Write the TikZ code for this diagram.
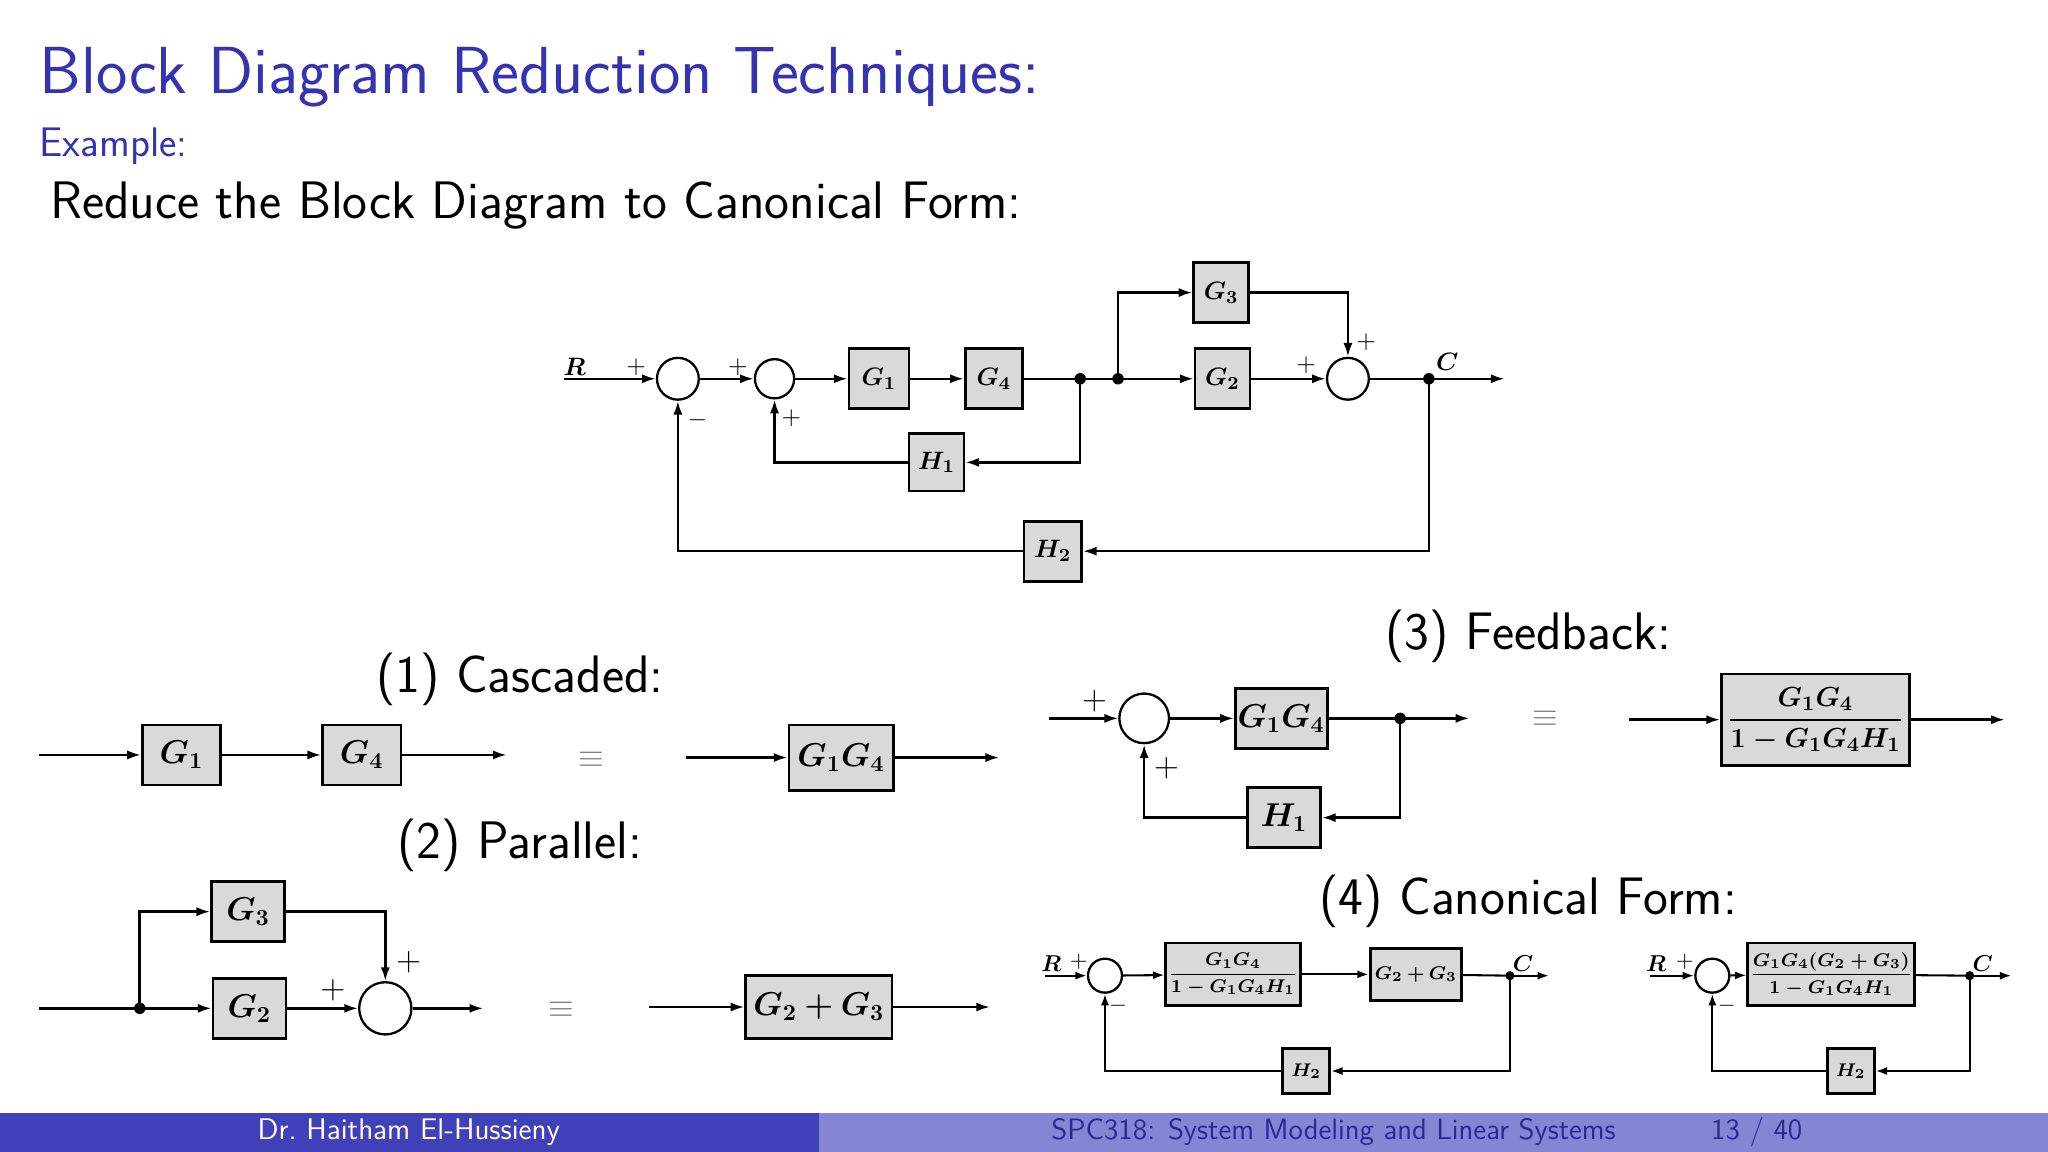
\documentclass[tikz,border=0pt]{standalone}
\usepackage{amsmath}
\usepackage{bm}
\usetikzlibrary{arrows.meta}
\definecolor{bblue}{HTML}{3333B3}
\definecolor{fdark}{HTML}{4040B8}
\definecolor{flight}{HTML}{8585D6}
\newcommand{\fs}[1]{\fontsize{#1}{#1}\selectfont}
\begin{document}
\begin{tikzpicture}[x=0.2mm,y=-0.2mm,
 blk/.style 2 args={draw,line width=1.2pt,fill=gray!30,minimum width=#1*0.2mm,minimum height=#2*0.2mm,inner sep=1pt},
 sumc/.style={draw,circle,line width=1pt,fill=white,minimum size=#1*0.2mm,inner sep=0pt},
 arr/.style={line width=1.1pt,-{Latex[length=6pt,width=4pt]}},
 ln/.style={line width=1.1pt},
 dotn/.style={circle,fill,inner sep=0pt,minimum size=5pt},
 lab/.style={font=\fs{#1},inner sep=0pt}]
\useasboundingbox (0,0) rectangle (1568,882);
\fill[white] (0,0) rectangle (1568,882);
% header
\node[anchor=west,text=bblue,lab=29] (title) at (30,59) {\sffamily Block Diagram Reduction Techniques:};
\node[anchor=west,text=bblue,lab=18] (ex) at (30,112) {\sffamily Example:};
\node[anchor=west,lab=23] (red) at (38,157) {\sffamily Reduce the Block Diagram to Canonical Form:};
% footer
\fill[fdark] (0,852) rectangle (627,882);
\fill[flight] (627,852) rectangle (1568,882);
\node[text=white,lab=13] (fa) at (313,867) {\sffamily Dr.\ Haitham El-Hussieny};
\node[text=bblue!80!black,lab=12.8] (fb) at (1021,867) {\sffamily SPC318: System Modeling and Linear Systems};
\node[text=bblue!80!black,lab=12.8] (fc) at (1345,867) {\sffamily 13 / 40};
% ===== main diagram =====
\begin{scope}[font=\fs{11}]
\coordinate (R) at (432,290);
\node[sumc=32] (s1) at (519,290) {};
\node[sumc=30] (s2) at (593,290) {};
\node[blk={46}{46}] (g1) at (673,290) {$\bm{G_1}$};
\node[blk={44}{46}] (g4) at (761,290) {$\bm{G_4}$};
\node[dotn] (d1) at (827,290) {};
\node[dotn] (d2) at (856,290) {};
\node[blk={42}{46}] (g3) at (935,224) {$\bm{G_3}$};
\node[blk={42}{46}] (g2) at (936,290) {$\bm{G_2}$};
\node[sumc=32] (s3) at (1032,290) {};
\node[dotn] (d3) at (1094,290) {};
\coordinate (C) at (1152,290);
\node[blk={42}{44}] (h1) at (717,354) {$\bm{H_1}$};
\node[blk={44}{46}] (h2) at (806,422) {$\bm{H_2}$};
\draw[arr] (R) -- (s1);
\draw[arr] (s1) -- (s2);
\draw[arr] (s2) -- (g1);
\draw[arr] (g1) -- (g4);
\draw[ln] (g4) -- (d2.center);
\draw[arr] (d2.center) -- (g2);
\draw[arr] (d2.center) |- (g3);
\draw[arr] (g2) -- (s3);
\draw[arr] (g3) -| (s3);
\draw[ln] (s3) -- (d3.center);
\draw[arr] (d3.center) -- (C);
\draw[arr] (d1.center) |- (h1);
\draw[arr] (h1) -| (s2);
\draw[arr] (d3.center) |- (h2);
\draw[arr] (h2) -| (s1);
\node[lab=11] (lR) at (440,281) {$\bm{R}$};
\node[lab=11] (p1) at (487,281) {$+$};
\node[lab=11] (p2) at (565,281) {$+$};
\node[lab=11] (p3) at (606,320) {$+$};
\node[lab=11] (m1) at (534,322) {$-$};
\node[lab=11] (p4) at (1000,280) {$+$};
\node[lab=11] (p5) at (1046,262) {$+$};
\node[lab=11] (lC) at (1108,277) {$\bm{C}$};
\end{scope}
% ===== (1) cascaded =====
\node[lab=23] (t1) at (398,520) {\sffamily (1) Cascaded:};
\begin{scope}[font=\fs{14}]
\coordinate (a0) at (30,578);
\node[blk={60}{46}] (c1) at (139,578) {$\bm{G_1}$};
\node[blk={60}{46}] (c4) at (277,578) {$\bm{G_4}$};
\coordinate (a1) at (388,578);
\draw[arr] (a0) -- (c1);
\draw[arr] (c1) -- (c4);
\draw[arr] (c4) -- (a1);
\node[lab=14,text=gray] (eq1) at (453,582) {$\equiv$};
\coordinate (b0) at (525,580);
\node[blk={80}{50}] (c14) at (644,580) {$\bm{G_1G_4}$};
\coordinate (b1) at (765,580);
\draw[arr] (b0) -- (c14);
\draw[arr] (c14) -- (b1);
\end{scope}
% ===== (2) parallel =====
\node[lab=23] (t2) at (398,647) {\sffamily (2) Parallel:};
\begin{scope}[font=\fs{14}]
\coordinate (e0) at (30,772);
\node[dotn] (pd) at (107,772) {};
\node[blk={56}{46}] (pg3) at (190,698) {$\bm{G_3}$};
\node[blk={56}{46}] (pg2) at (191,772) {$\bm{G_2}$};
\node[sumc=40] (ps) at (295,772) {};
\coordinate (e1) at (370,772);
\draw[ln] (e0) -- (pd.center);
\draw[arr] (pd.center) -- (pg2);
\draw[arr] (pd.center) |- (pg3);
\draw[arr] (pg2) -- (ps);
\draw[arr] (pg3) -| (ps);
\draw[arr] (ps) -- (e1);
\node[lab=14] (pp1) at (313,737) {$+$};
\node[lab=14] (pp2) at (255,758) {$+$};
\node[lab=14,text=gray] (eq2) at (430,773) {$\equiv$};
\coordinate (f0) at (497,771);
\node[blk={112}{48}] (pg23) at (627,771) {$\bm{G_2+G_3}$};
\coordinate (f1) at (758,771);
\draw[arr] (f0) -- (pg23);
\draw[arr] (pg23) -- (f1);
\end{scope}
% ===== (3) feedback =====
\node[lab=23] (t3) at (1170,487) {\sffamily (3) Feedback:};
\begin{scope}[font=\fs{14}]
\coordinate (k0) at (803,550);
\node[sumc=38] (fsum) at (876,550) {};
\node[blk={70}{46}] (fg) at (981,550) {$\bm{G_1G_4}$};
\node[dotn] (fd) at (1072,550) {};
\coordinate (k1) at (1125,550);
\node[blk={56}{46}] (fh) at (983,626) {$\bm{H_1}$};
\draw[arr] (k0) -- (fsum);
\draw[arr] (fsum) -- (fg);
\draw[ln] (fg) -- (fd.center);
\draw[arr] (fd.center) -- (k1);
\draw[arr] (fd.center) |- (fh);
\draw[arr] (fh) -| (fsum);
\node[lab=14] (fp1) at (838,537) {$+$};
\node[lab=14] (fp2) at (893,588) {$+$};
\node[lab=14,text=gray] (eq3) at (1183,550) {$\equiv$};
\coordinate (l0) at (1247,551);
\node[blk={144}{70},font=\fs{12.5}] (ff) at (1390,551) {$\bm{\dfrac{G_1G_4}{1-G_1G_4H_1}}$};
\coordinate (l1) at (1535,551);
\draw[arr] (l0) -- (ff);
\draw[arr] (ff) -- (l1);
\end{scope}
% ===== (4) canonical =====
\node[lab=23] (t4) at (1170,690) {\sffamily (4) Canonical Form:};
\begin{scope}[font=\fs{8.5},arr/.style={line width=0.9pt,-{Latex[length=5pt,width=3.5pt]}},ln/.style={line width=0.9pt},dotn/.style={circle,fill,inner sep=0pt,minimum size=4pt}]
\coordinate (q0) at (800,747);
\node[sumc=26] (qs) at (846,747) {};
\node[blk={98}{48}] (qb1) at (944,746) {$\bm{\dfrac{G_1G_4}{1-G_1G_4H_1}}$};
\node[blk={70}{40}] (qb2) at (1084,746) {$\bm{G_2+G_3}$};
\node[dotn] (qd) at (1156,747) {};
\coordinate (q1) at (1186,747);
\node[blk={36}{34}] (qh) at (1000,820) {$\bm{H_2}$};
\draw[arr] (q0) -- (qs);
\draw[arr] (qs) -- (qb1);
\draw[arr] (qb1) -- (qb2);
\draw[ln] (qb2) -- (qd.center);
\draw[arr] (qd.center) -- (q1);
\draw[arr] (qd.center) |- (qh);
\draw[arr] (qh) -| (qs);
\node[lab=10] (qR) at (805,738) {$\bm{R}$};
\node[lab=10] (qp) at (826,736) {$+$};
\node[lab=10] (qm) at (856,770) {$-$};
\node[lab=10] (qC) at (1166,738) {$\bm{C}$};
% right
\coordinate (r0) at (1263,747);
\node[sumc=26] (rs) at (1311,747) {};
\node[blk={86}{48}] (rb) at (1402,746) {$\bm{\dfrac{G_1G_4(G_2+G_3)}{1-G_1G_4H_1}}$};
\node[dotn] (rd) at (1508,747) {};
\coordinate (r1) at (1540,747);
\node[blk={36}{34}] (rh) at (1417,820) {$\bm{H_2}$};
\draw[arr] (r0) -- (rs);
\draw[arr] (rs) -- (rb);
\draw[ln] (rb) -- (rd.center);
\draw[arr] (rd.center) -- (r1);
\draw[arr] (rd.center) |- (rh);
\draw[arr] (rh) -| (rs);
\node[lab=10] (rR) at (1268,738) {$\bm{R}$};
\node[lab=10] (rp) at (1290,736) {$+$};
\node[lab=10] (rm) at (1322,770) {$-$};
\node[lab=10] (rC) at (1518,738) {$\bm{C}$};
\end{scope}
\end{tikzpicture}
\end{document}
